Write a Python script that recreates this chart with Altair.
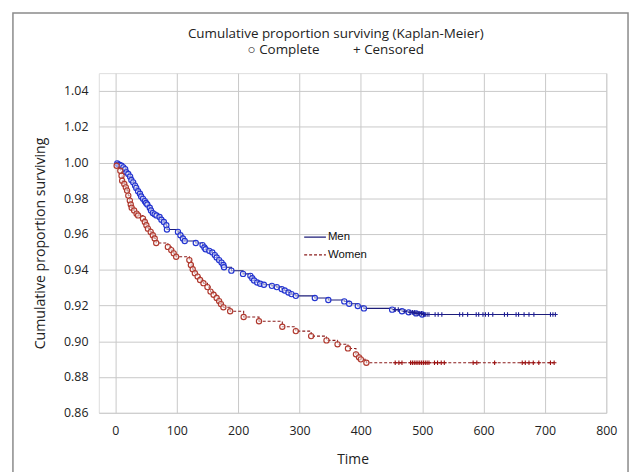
import altair as alt
import pandas as pd

# ---------------- data ----------------
men_event_t = [3, 5, 7, 10, 13, 16, 18, 21, 24, 26, 29, 32, 34, 37, 40, 42, 45, 48, 50, 52,
               56, 58, 61, 64, 67, 72, 75, 79, 83, 84,
               102, 106, 110, 113, 131, 142, 145, 147, 153, 158, 162, 165, 169, 173, 176, 177,
               189, 208, 220, 223, 226, 231, 236, 242, 255, 263, 271, 276, 282, 287, 294,
               325, 347, 373, 381, 395, 405, 451, 467, 478, 490, 500]
men_event_s = [0.9995, 0.9990, 0.9986, 0.9982, 0.9973, 0.9963, 0.9945, 0.9936, 0.9921, 0.9902,
               0.9889, 0.9871, 0.9858, 0.9839, 0.9825, 0.9810, 0.9797, 0.9784, 0.9774, 0.9765,
               0.9747, 0.9732, 0.9717, 0.9710, 0.9704, 0.9695, 0.9680, 0.9667, 0.9649, 0.9625,
               0.9612, 0.9593, 0.9575, 0.9561, 0.9550, 0.9538, 0.9525, 0.9515, 0.9506, 0.9497,
               0.9482, 0.9469, 0.9454, 0.9440, 0.9427, 0.9414,
               0.9395, 0.9377, 0.9366, 0.9353, 0.9340, 0.9329, 0.9322, 0.9316, 0.9310, 0.9303,
               0.9292, 0.9284, 0.9273, 0.9264, 0.9254,
               0.9242, 0.9231, 0.9223, 0.9210, 0.9197, 0.9184, 0.9177, 0.9168, 0.9162, 0.9156, 0.9150]
men_censored_t = [456, 461, 472, 480, 484, 487, 490, 493, 496, 499, 502, 505, 508, 511, 521, 526,
                  532, 561, 566, 574, 588, 592, 599, 603, 608, 615, 634, 639, 653, 657, 666, 674,
                  682, 709, 713, 717]

women_event_t = [2, 8, 10, 11, 14.5, 17, 19, 21, 23.5, 25, 26.5, 30.5, 34.5, 37, 45, 48, 50.5,
                 53, 57.5, 61, 64, 66.5, 85.5, 91, 95, 99, 120.5, 123, 126, 129.5, 134, 138,
                 143.5, 150, 155, 160, 165, 169, 172, 176, 187, 209, 234, 272, 294, 319, 344,
                 362, 379, 392, 397, 400, 409]
women_event_s = [0.9982, 0.9954, 0.9926, 0.9898, 0.9880, 0.9861, 0.9843, 0.9815, 0.9787, 0.9765,
                 0.9747, 0.9732, 0.9714, 0.9704, 0.9686, 0.9667, 0.9649, 0.9630, 0.9612, 0.9593,
                 0.9575, 0.9550, 0.9528, 0.9510, 0.9492, 0.9473, 0.9454, 0.9427, 0.9403, 0.9381,
                 0.9362, 0.9343, 0.9325, 0.9303, 0.9278, 0.9260, 0.9242, 0.9225, 0.9208, 0.9190,
                 0.9168, 0.9136, 0.9112, 0.9081, 0.9057, 0.9029, 0.9005, 0.8983, 0.8960, 0.8927,
                 0.8910, 0.8899, 0.8880]
women_censored_t = [456, 462, 467, 481, 484, 487, 490, 493, 496, 499, 502, 505, 508, 511, 520,
                    525, 531, 536, 583, 589, 618, 663, 668, 674, 681, 690, 709, 715]

x_ticks = [0, 100, 200, 300, 400, 500, 600, 700, 800]
y_ticks = [0.86, 0.88, 0.90, 0.92, 0.94, 0.96, 0.98, 1.00, 1.02, 1.04]
series_names = ["Men", "Women"]


def surv_at(t, ev_t, ev_s):
    s = 1.0
    for et, es in zip(ev_t, ev_s):
        if et <= t:
            s = es
    return s


line_rows, event_rows, cens_rows = [], [], []
for name, et, es, ct in [("Men", men_event_t, men_event_s, men_censored_t),
                         ("Women", women_event_t, women_event_s, women_censored_t)]:
    line_rows.append({"series": name, "time": 0, "surv": 1.0})
    for t, s in zip(et, es):
        line_rows.append({"series": name, "time": t, "surv": s})
        event_rows.append({"series": name, "time": t, "surv": s})
    line_rows.append({"series": name, "time": max(ct), "surv": surv_at(max(ct), et, es)})
    for t in ct:
        cens_rows.append({"series": name, "time": t, "surv": surv_at(t, et, es)})

lines_df = pd.DataFrame(line_rows)
events_df = pd.DataFrame(event_rows)
cens_df = pd.DataFrame(cens_rows)

AX_FONT = "Open Sans"

xenc = alt.X("time:Q",
             scale=alt.Scale(domain=[-27, 800], nice=False, zero=False),
             axis=alt.Axis(title="Time", values=x_ticks, tickCount=12, format="d", grid=True,
                           gridColor="#c8c8c8", gridWidth=1, ticks=False, domain=False,
                           labelFlush=False, labelOverlap=False,
                           labelFont=AX_FONT, labelFontSize=12.5, labelColor="#222",
                           labelPadding=12, titleFont=AX_FONT, titleFontSize=14,
                           titleFontWeight="normal", titleColor="#222", titlePadding=16))
yenc = alt.Y("surv:Q",
             scale=alt.Scale(domain=[0.86, 1.05], nice=False, zero=False),
             axis=alt.Axis(title="Cumulative proportion surviving", values=y_ticks,
                           tickCount=12, format=".2f", grid=True, gridColor="#c8c8c8",
                           gridWidth=1, ticks=False, domain=False, labelOverlap=False,
                           labelFlush=False, labelFont=AX_FONT, labelFontSize=12.5,
                           labelColor="#222", labelPadding=11, titleFont=AX_FONT,
                           titleFontSize=14.3, titleFontWeight="normal", titleColor="#222",
                           titlePadding=16))

lines = alt.Chart(lines_df).mark_line(interpolate="step-after", strokeWidth=1.1).encode(
    x=xenc, y=yenc,
    color=alt.Color("series:N", scale=alt.Scale(domain=series_names,
                                                 range=["#1c1c78", "#8b1c1c"]),
                    legend=alt.Legend(title=None, orient="none", legendX=207, legendY=154,
                                      symbolType="stroke", symbolSize=484,
                                      symbolStrokeWidth=1.2, labelFont="Liberation Sans",
                                      labelFontSize=11.5, labelColor="#111", labelOffset=1,
                                      rowPadding=-4)),
    strokeDash=alt.StrokeDash("series:N", scale=alt.Scale(domain=series_names,
                                                          range=[[1, 0], [3, 2]]),
                              legend=alt.Legend(title=None, orient="none", legendX=207,
                                                legendY=154)),
)

men_pts = alt.Chart(events_df).transform_filter(alt.datum.series == "Men").mark_point(
    shape="circle", filled=False, size=28, strokeWidth=1.15, stroke="#2233d0", fill="white",
    fillOpacity=0.5, opacity=1).encode(x="time:Q", y="surv:Q")
women_pts = alt.Chart(events_df).transform_filter(alt.datum.series == "Women").mark_point(
    shape="circle", filled=False, size=28, strokeWidth=1.15, stroke="#b0392e", fill="white",
    fillOpacity=0.5, opacity=1).encode(x="time:Q", y="surv:Q")

PLUS = "M-1,0H1M0,-1V1"
men_cens = alt.Chart(cens_df).transform_filter(alt.datum.series == "Men").mark_point(
    shape=PLUS, size=22, strokeWidth=1.1, stroke="#1c1c90", filled=False, opacity=1
).encode(x="time:Q", y="surv:Q")
women_cens = alt.Chart(cens_df).transform_filter(alt.datum.series == "Women").mark_point(
    shape=PLUS, size=22, strokeWidth=1.1, stroke="#9b1010", filled=False, opacity=1
).encode(x="time:Q", y="surv:Q")

frame = alt.Chart(alt.Data(values=[{}])).mark_rect(
    fill=None, stroke="#8a8a8a", strokeWidth=1.5, clip=False).encode(
    x=alt.value(-87), x2=alt.value(536), y=alt.value(-61), y2=alt.value(420))

chart = alt.layer(frame, lines, men_pts, women_pts, men_cens, women_cens).properties(
    width=514, height=344,
    title=alt.TitleParams(
        text="Cumulative proportion surviving (Kaplan-Meier)",
        subtitle="\u25cb Complete\u2003\u2003\u2002+ Censored",
        anchor="middle", frame="group", dx=-17, offset=-45,
        font=AX_FONT, fontSize=13.6, fontWeight="normal", color="#222",
        subtitleFont=AX_FONT, subtitleFontSize=13.6, subtitleColor="#222",
        subtitlePadding=3),
    autosize=alt.AutoSizeParams(type="none"),
    padding={"left": 92, "top": 63, "right": 24, "bottom": 57},
).configure_view(stroke="#222", strokeWidth=1).configure(background="white")

chart.save("out.html", embed_options={"renderer": "svg", "actions": False})
